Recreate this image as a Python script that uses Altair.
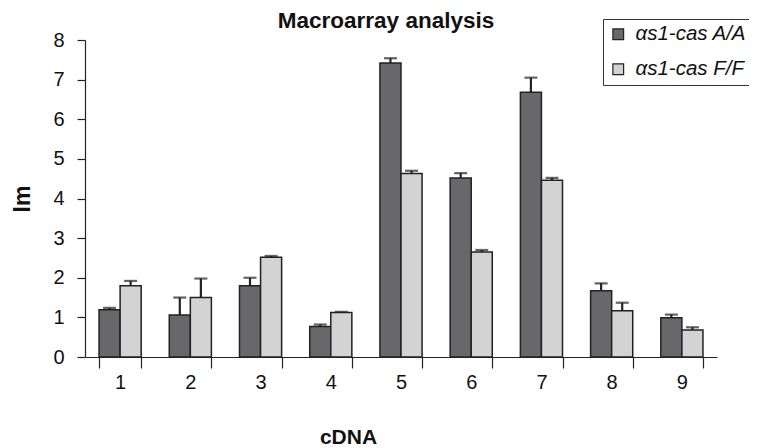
import altair as alt
import pandas as pd

cdna = ["1", "2", "3", "4", "5", "6", "7", "8", "9"]
series = ["αs1-cas A/A", "αs1-cas F/F"]
aa_vals = [1.19, 1.06, 1.80, 0.77, 7.42, 4.52, 6.68, 1.67, 0.99]
aa_err = [0.05, 0.44, 0.20, 0.05, 0.12, 0.12, 0.37, 0.19, 0.08]
ff_vals = [1.80, 1.50, 2.52, 1.12, 4.63, 2.65, 4.46, 1.17, 0.68]
ff_err = [0.12, 0.48, 0.03, 0.02, 0.07, 0.05, 0.06, 0.20, 0.07]
title_text = ["Macroarray analysis"]

rows = []
for i, c in enumerate(cdna):
    rows.append({"cDNA": c, "s": series[0], "v": aa_vals[i], "top": aa_vals[i] + aa_err[i]})
    rows.append({"cDNA": c, "s": series[1], "v": ff_vals[i], "top": ff_vals[i] + ff_err[i]})
df = pd.DataFrame(rows)

xaxis = alt.Axis(title="cDNA", labelAngle=0, tickBand="extent",
                 labelFontSize=20, tickSize=11, titleFontSize=21,
                 titleFontWeight="bold", titleX=263, titleY=86,
                 titleBaseline="alphabetic", titleAnchor="middle",
                 domainColor="#222", tickColor="#222", labelColor="#111",
                 titleColor="#111", labelPadding=4, tickWidth=1.2,
                 domainWidth=1.2, grid=False)
yaxis = alt.Axis(title="Im", values=list(range(9)), grid=False, labelFontSize=20,
                 titleFontSize=23, titleFontWeight="bold", titleAngle=-90,
                 titlePadding=18, tickSize=8, domainColor="#222",
                 tickColor="#222", labelColor="#111", titleColor="#111",
                 labelPadding=13, tickWidth=1.2, domainWidth=1.2)
xscale = alt.Scale(paddingInner=0.4, paddingOuter=0.2)
yscale = alt.Scale(domain=[0, 8])

xenc = alt.X("cDNA:N", sort=cdna, scale=xscale, axis=xaxis)
xoff = alt.XOffset("s:N", sort=series, scale=alt.Scale(paddingInner=0, paddingOuter=0))
color = alt.Color("s:N", sort=series,
                  scale=alt.Scale(domain=series, range=["#68686b", "#d3d3d3"]),
                  legend=alt.Legend(title=None, orient="none", legendX=518, legendY=-21,
                                    symbolType="square", symbolSize=115,
                                    symbolStrokeColor="#222", symbolStrokeWidth=1.2,
                                    labelFontSize=20.5, labelFont="Liberation Sans",
                                    labelFontStyle="italic", labelColor="#111",
                                    strokeColor="#333", fillColor="white",
                                    padding=5, rowPadding=14, symbolOffset=0,
                                    labelOffset=7, labelLimit=300))

bars = alt.Chart(df).mark_bar(stroke="#222", strokeWidth=1.5).encode(
    x=xenc, xOffset=xoff, y=alt.Y("v:Q", scale=yscale, axis=yaxis), color=color,
)
rule = alt.Chart(df).mark_rule(color="#222", strokeWidth=2.2).encode(
    x=xenc, xOffset=xoff,
    y=alt.Y("v:Q", scale=yscale, axis=yaxis), y2="top:Q")
cap = alt.Chart(df).mark_tick(color="#222", thickness=2.2, size=13, orient="horizontal").encode(
    x=xenc, xOffset=xoff, y=alt.Y("top:Q", scale=yscale, axis=yaxis))
title = alt.Chart(pd.DataFrame({"t": title_text})).mark_text(
    fontSize=22.5, fontWeight="bold", color="#111", baseline="alphabetic", align="center",
    font="Liberation Sans").encode(text="t:N", x=alt.value(301), y=alt.value(-12))

chart = alt.layer(bars, rule, cap, title).properties(
    width=632, height=317,
    autosize=alt.AutoSizeParams(type="none"),
    padding={"left": 77, "top": 32, "right": 32, "bottom": 91},
).configure(font="Liberation Sans").configure_view(strokeWidth=0, stroke="transparent")

chart.save("out.html", embed_options={"renderer": "svg", "actions": False})
